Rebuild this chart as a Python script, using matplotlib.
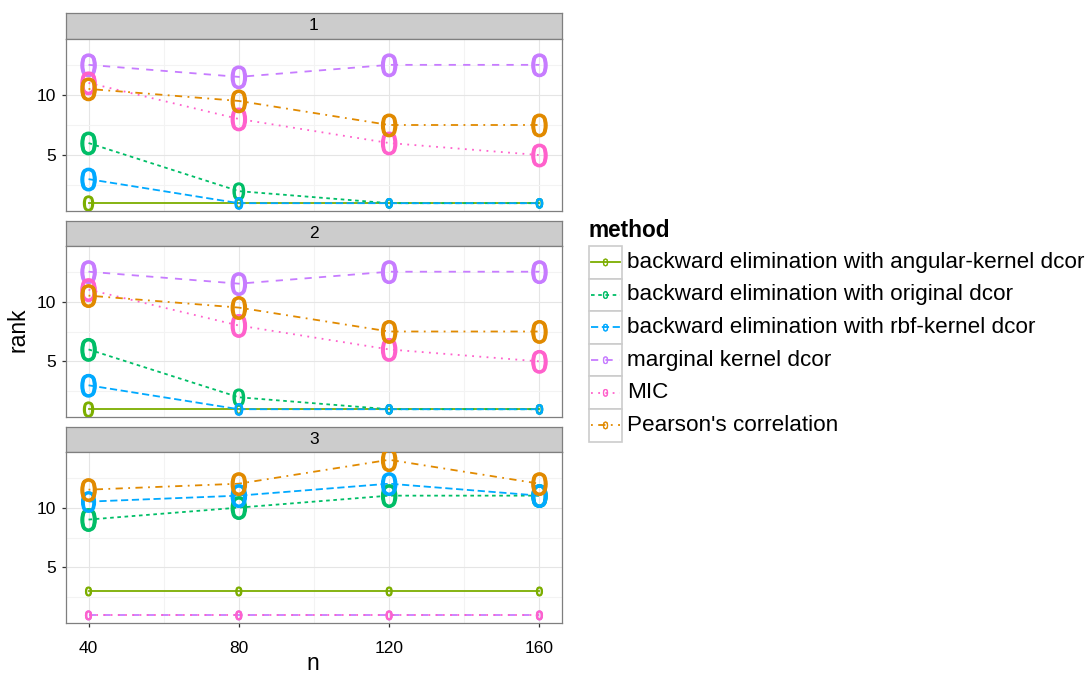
import matplotlib
matplotlib.use('Agg')
import matplotlib.pyplot as plt
import matplotlib.patheffects as pe
from matplotlib.patches import Rectangle

plt.rcParams['font.family'] = ['Liberation Sans', 'DejaVu Sans']

W, H = 1089, 675

n = [40, 80, 120, 160]
panels = ['1', '2', '3']
methods = ['backward elimination with angular-kernel dcor',
           'backward elimination with original dcor',
           'backward elimination with rbf-kernel dcor',
           'marginal kernel dcor',
           'MIC',
           "Pearson's correlation"]
colors = ['#7CAE00', '#00BE67', '#00A9FF', '#C77CFF', '#FF61CC', '#E18A00']
dashes = [None, (2, 2), (4, 2), (4, 4), (1, 3), (1, 3, 4, 3)]

# mean rank of the relevant variable, one row per method
rank_1 = [[1, 1, 1, 1], [6, 2, 1, 1], [3, 1, 1, 1],
          [12.5, 11.5, 12.5, 12.5], [11, 8, 6, 5], [10.5, 9.5, 7.5, 7.5]]
rank_2 = [[1, 1, 1, 1], [6, 2, 1, 1], [3, 1, 1, 1],
          [12.5, 11.5, 12.5, 12.5], [11, 8, 6, 5], [10.5, 9.5, 7.5, 7.5]]
rank_3 = [[3, 3, 3, 3], [9, 10, 11, 11], [10.5, 11, 12, 11],
          [1, 1, 1, 1], [1, 1, 1, 1], [11.5, 12, 14, 12]]

# spread of the rank over replications (drives glyph size)
spread_1 = [[0.45, 0.05, 0, 0], [1, 0.6, 0.05, 0.05], [1, 0.2, 0.05, 0.05],
            [1, 1, 1, 1], [1, 1, 1, 1], [1, 1, 1, 1]]
spread_2 = [[0.45, 0.05, 0, 0], [1, 0.6, 0.05, 0.05], [1, 0.2, 0.05, 0.05],
            [1, 1, 1, 1], [1, 1, 1, 1], [1, 1, 1, 1]]
spread_3 = [[0, 0, 0, 0], [1, 1, 1, 1], [0.85, 1, 1, 1],
            [0, 0, 0, 0], [0, 0, 0, 0], [1, 1, 1, 1]]

ranks = [rank_1, rank_2, rank_3]
spreads = [spread_1, spread_2, spread_3]


def box(x0, y0, x1, y1):
    # pixel box (top-left origin) -> figure fraction rect
    return [x0 / W, 1 - y1 / H, (x1 - x0) / W, (y1 - y0) / H]


def glyph(ax, x, y, fs, c, clip=True, thick=0.9):
    t = ax.annotate('0', (x, y), xytext=(0, -0.358 * fs), textcoords='offset points',
                    ha='center', va='baseline', fontsize=fs, color=c, clip_on=clip,
                    annotation_clip=False, zorder=4)
    t.set_path_effects([pe.withStroke(linewidth=thick, foreground=c)])


fig = plt.figure(figsize=(W / 100, H / 100), dpi=100)

grey50 = '#7F7F7F'
strips = [(13, 39), (221, 246), (427, 452)]
plots = [(39, 211), (246, 417), (452, 623)]
x0, x1 = 66, 562

for p in range(3):
    st = fig.add_axes(box(x0, strips[p][0], x1, strips[p][1]))
    st.set_facecolor('#CCCCCC')
    st.set_xticks([])
    st.set_yticks([])
    for s in st.spines.values():
        s.set_color(grey50)
        s.set_linewidth(0.9)
    st.text(0.5, 0.5, panels[p], ha='center', va='center', fontsize=12.5,
            transform=st.transAxes)

    ax = fig.add_axes(box(x0, plots[p][0], x1, plots[p][1]))
    ax.set_xlim(34, 166)
    ax.set_ylim(0.35, 14.65)
    ax.set_xticks(n)
    ax.set_xticks([60, 100, 140], minor=True)
    ax.set_yticks([5, 10])
    ax.set_yticks([2.5, 7.5, 12.5], minor=True)
    ax.grid(which='major', color='#E5E5E5', lw=0.8)
    ax.grid(which='minor', color='#F3F3F3', lw=0.8)
    ax.set_axisbelow(True)
    ax.tick_params(which='minor', length=0)
    ax.tick_params(which='major', length=3.2, width=0.9, color='#333333',
                   labelsize=12.5, pad=4)
    ax.tick_params(axis='x', which='major', pad=9.5)
    for s in ax.spines.values():
        s.set_color(grey50)
        s.set_linewidth(0.9)
    if p < 2:
        ax.tick_params(axis='x', which='major', length=0, labelbottom=False)

    for m in range(len(methods)):
        r = ranks[p][m]
        if dashes[m] is None:
            ax.plot(n, r, color=colors[m], lw=1.3, zorder=3)
        else:
            ax.plot(n, r, color=colors[m], lw=1.3, dashes=dashes[m], zorder=3)
        for xi, yi, si in zip(n, r, spreads[p][m]):
            glyph(ax, xi, yi, 9 + 14 * si, colors[m])

fig.text(18 / W, 1 - 330 / H, 'rank', rotation=90, ha='center', va='center',
         fontsize=16.5)
fig.text(313 / W, 1 - 663 / H, 'n', ha='center', va='center', fontsize=16.5)

# legend
lg = fig.add_axes(box(580, 215, 1089, 450))
lg.set_xlim(580, 1089)
lg.set_ylim(450, 215)
lg.axis('off')
lg.text(589, 231, 'method', fontsize=16.3, fontweight='bold', va='center', ha='left')
row_h = 32.6
top = 246
for m in range(len(methods)):
    y0 = top + m * row_h
    lg.add_patch(Rectangle((589, y0), 33, row_h, facecolor='white',
                           edgecolor='#CCCCCC', lw=1.2))
    yc = y0 + row_h / 2
    if dashes[m] is None:
        lg.plot([591, 620], [yc, yc], color=colors[m], lw=1.3)
    else:
        lg.plot([591, 620], [yc, yc], color=colors[m], lw=1.3, dashes=dashes[m])
    glyph(lg, 605.5, yc, 7.5, colors[m], clip=False, thick=0.3)
    lg.text(627, yc, methods[m], fontsize=16.2, va='center', ha='left')

fig.savefig('out.png', dpi=100)
